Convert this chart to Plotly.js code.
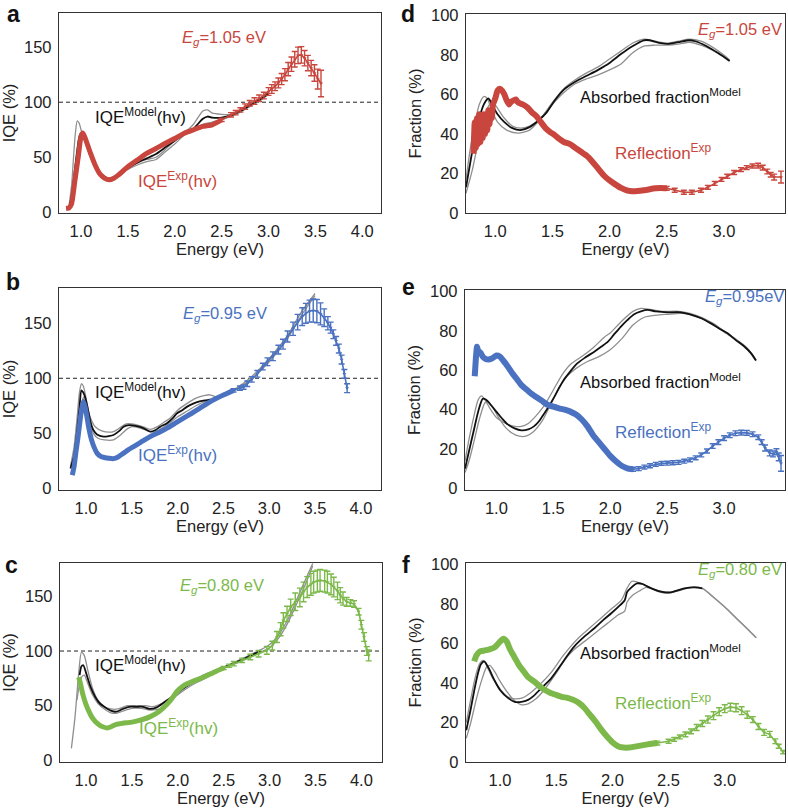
<!DOCTYPE html>
<html><head><meta charset="utf-8">
<script src="https://cdn.plot.ly/plotly-3.0.1.min.js"></script>
<style>body{margin:0;background:#fff}#chart{width:788px;height:809px}</style>
</head><body><div id="chart"></div>
<script>
// ---------- Panel a (Eg = 1.05 eV) ----------
const a_grey1_x = [0.87,0.9,0.92,0.94,0.96,0.98,1.0,1.05,1.1,1.2,1.3,1.4,1.5,1.6,1.7,1.8,1.9,2.0,2.1,2.2,2.3,2.35,2.4,2.5,2.6,2.7,2.8,2.9,3.0];
const a_grey1_y = [5,25,50,72,83,81,75,62,50,35,30,34,41,45,48,50,57,65,72,80,92,93,90,89,89,92,97,103,110];
const a_grey2_x = [0.88,0.92,0.95,0.98,1.0,1.03,1.05,1.1,1.2,1.3,1.4,1.5,1.6,1.7,1.8,1.9,2.0,2.1,2.2,2.3,2.4,2.5,2.6,2.7,2.8,2.9,3.0];
const a_grey2_y = [2,18,40,60,68,68,65,52,36,31,34,39,43,46,48,55,62,70,75,80,82,84,87,91,96,101,107];
const a_black_x = [0.87,0.9,0.95,0.98,1.0,1.03,1.1,1.2,1.3,1.4,1.5,1.6,1.7,1.8,1.9,2.0,2.1,2.2,2.3,2.35,2.4,2.5,2.6,2.7,2.8,2.9,3.0];
const a_black_y = [2,15,50,68,72,68,52,36,30,33,40,45,49,53,59,65,71,76,85,87,86,86,88,92,97,102,108];
const a_exp_x = [0.84,0.87,0.9,0.935,0.97,1.0,1.02,1.05,1.1,1.15,1.2,1.25,1.3,1.35,1.4,1.5,1.6,1.7,1.8,1.9,2.0,2.1,2.2,2.3,2.4,2.5,2.6,2.65,2.7,2.75,2.8,2.85,2.9,2.95,3.0,3.035,3.07,3.105,3.14,3.175,3.21,3.245,3.28,3.315,3.35,3.385,3.42,3.455,3.49,3.525,3.56];
const a_exp_y = [3.5,4,8,29,50,69,72,66,54,43,35,31,29.5,31,34,41.5,47.5,53.6,58,62.7,67,71.8,75,78,79.5,84,88.5,90.5,93,96,99,101,103.6,106,109.7,112,114.5,117.5,121,125,130,134.5,139,142.5,143,140,135.5,131,126.5,121,117];
const a_exp_err = [1,1,1,1,1,1,1,1,1,1,1,1,1,1,1,1,1,1,1,1,1,1,1.5,1.5,1.5,1.5,2,2,2,2.5,2.5,3,3,3,3.5,4,4,4.5,5,5.5,6,6.5,7,7.5,7.5,7,7,7,7.5,9,12];

// ---------- Panel b (Eg = 0.95 eV) ----------
const b_grey1_x = [0.83,0.87,0.9,0.93,0.95,0.97,1.0,1.04,1.1,1.18,1.25,1.3,1.37,1.44,1.5,1.58,1.65,1.7,1.78,1.85,1.92,2.0,2.1,2.2,2.3,2.35,2.43,2.6,2.8,3.0,3.2,3.35,3.5];
const b_grey1_y = [20,38,62,88,95,93,82,66,56,52,51,51.5,55,58.5,58.5,57,55,53.6,56,60,64,71,77,82,84.5,85,83,89,101,118,139,160,177];
const b_grey2_x = [0.85,0.9,0.93,0.96,0.98,1.0,1.04,1.08,1.13,1.2,1.3,1.37,1.45,1.5,1.58,1.65,1.7,1.76,1.85,1.92,2.0,2.1,2.2,2.3,2.4,2.6,2.8,3.0,3.2,3.35,3.5];
const b_grey2_y = [15,40,62,80,83,78,60,50,45.5,44,44,48,54,56,55,53,51.5,51.5,56,60,65,70,75,79,81,88,99,115,136,157,175];
const b_black_x = [0.83,0.87,0.9,0.93,0.95,0.97,0.99,1.02,1.05,1.08,1.12,1.19,1.25,1.3,1.36,1.41,1.47,1.52,1.58,1.63,1.7,1.76,1.81,1.88,1.95,1.99,2.05,2.1,2.17,2.24,2.3,2.35,2.43];
const b_black_y = [18,30,50,75,89,87,83,72,60,53,49,47,47.5,48.5,52,56,57.5,57,56,54.5,51.5,53,56,59,64,68,71,74,77,79,80,80.5,82];
const b_exp_x = [0.85,0.87,0.89,0.91,0.93,0.95,0.97,0.99,1.01,1.03,1.06,1.09,1.12,1.16,1.2,1.25,1.3,1.35,1.41,1.46,1.52,1.6,1.7,1.8,1.88,1.97,2.06,2.15,2.24,2.33,2.43,2.52,2.61,2.68,2.72,2.76,2.81,2.87,2.93,2.98,3.04,3.1,3.15,3.2,3.26,3.31,3.36,3.4,3.44,3.48,3.52,3.56,3.6,3.64,3.67,3.7,3.73,3.76,3.79,3.82,3.85];
const b_exp_y = [12,20,33,45,58,71,79,74,65,55,44,37,32,29,28,27.3,27,28.5,32,35,38,42,47,51,54.5,59,63.6,68,72.7,77.5,82,85.5,89,91,92,95,99,104,110.6,115,120,126,131,138,145,151,156,159,161,161.5,161,158.5,155,150,146,140,134,127,117,104,91];
const b_exp_err = [1,1,1,1,1,1,1,1,1,1,1,1,1,1,1,1,1,1,1,1,1,1,1,1,1,1,1,1,1,1,1,1.5,1.5,2,2,2.5,2.5,3,3,3.5,4,4,4.5,5,6,7,8,9,10,10.5,10.5,10,8,6,5,4,4,4,4,4,4];

// ---------- Panel c (Eg = 0.80 eV) ----------
const c_grey1_x = [0.84,0.88,0.92,0.95,0.98,1.02,1.07,1.13,1.2,1.27,1.35,1.45,1.55,1.65,1.72,1.8,1.9,2.0,2.1,2.2,2.3,2.4,2.5,2.6,2.7,2.8,2.9,3.0,3.1,3.2,3.3,3.4,3.47];
const c_grey1_y = [11,40,80,99,96,82,66,55,49,47,47,50,50,50,49,51,56,61,68,74,79,82,85,89,93,97,101,106,115,129,148,167,180];
const c_grey2_x = [0.9,0.95,0.98,1.02,1.07,1.13,1.2,1.27,1.33,1.4,1.5,1.6,1.7,1.8,1.9,2.0,2.1,2.2,2.3,2.4,2.5,2.6,2.7,2.8,2.9,3.0,3.1,3.2,3.3,3.4,3.47];
const c_grey2_y = [55,76,78,70,60,52,47,43.5,43,45,47.5,47.5,46,47,53,60,66,71,75,80,84,87.5,91,95,99,103,112,126,144,163,178];
const c_black_x = [0.93,0.95,0.97,1.0,1.05,1.1,1.15,1.2,1.27,1.33,1.4,1.47,1.55,1.62,1.7,1.77,1.85,1.92,2.0,2.1,2.2,2.3,2.4,2.5,2.6,2.7,2.8,2.9];
const c_black_y = [78,86,87,80,67,58,52,49,45.5,44.5,47,49,49,49,47,48.5,53,57,62.5,68,73,77,81,85,88.5,92,96,100];
const c_exp_x = [0.92,0.94,0.96,0.98,1.0,1.03,1.06,1.09,1.12,1.15,1.19,1.23,1.28,1.33,1.4,1.5,1.6,1.7,1.8,1.88,1.94,1.99,2.05,2.1,2.17,2.24,2.3,2.37,2.43,2.5,2.56,2.61,2.7,2.79,2.88,2.97,3.03,3.08,3.12,3.15,3.19,3.23,3.28,3.33,3.37,3.41,3.45,3.48,3.52,3.55,3.6,3.63,3.67,3.7,3.74,3.77,3.8,3.84,3.88,3.92,3.97,4.0,4.03,4.06,4.08];
const c_exp_y = [76,70,62,56,51,45,40,36.5,34,32,30.5,29.6,31,33,34,35,37,40,45,51,57,63,67.5,70,72.5,74.7,77,79.5,82,84.5,86.5,88.4,91.5,94.5,97.5,100.6,105,112.8,120,128,134,140,145,149,154,158.5,161,163,164,164.6,164,163,161,158.5,155,151,148,145,144,143,136,124,112.8,100,96];
const c_exp_err = [1,1,1,1,1,1,1,1,1,1,1,1,1,1,1,1,1,1,1,1,1,1,1,1,1,1,1,1,1,1.5,1.5,2,2,2.5,3,3.5,4,5,6,7,7,7.5,8,8.5,9,9.5,10,10,10,10,10,10,9.5,9,8,7,6,4,3,3,3,4,4,4,5];

// ---------- Panel d (Eg = 1.05 eV) ----------
const d_grey1_x = [0.744,0.78,0.82,0.86,0.9,0.93,0.97,1.02,1.1,1.2,1.3,1.4,1.5,1.6,1.7,1.8,1.9,2.0,2.1,2.2,2.3,2.4,2.5,2.6,2.7,2.8,2.9,3.0,3.05];
const d_grey1_y = [17,32,45,55,59,58,52,46,42,40.5,42,48,56,63,67.5,71,74,78,82,86,88,87,86,87,88,87,84,80,77.5];
const d_grey2_x = [0.744,0.8,0.85,0.9,0.95,0.98,1.02,1.08,1.15,1.22,1.3,1.4,1.5,1.6,1.7,1.8,1.9,2.0,2.1,2.2,2.3,2.4,2.5,2.6,2.7,2.8,2.9,3.0,3.05];
const d_grey2_y = [10,22,36,48,55,56,53,48,44,43,44,48,55,61,65.5,68,70,72.5,75.5,81,84.5,85,85,85.5,86.5,85,82.5,79,77];
const d_black_x = [0.744,0.78,0.82,0.86,0.9,0.94,0.98,1.02,1.08,1.15,1.22,1.3,1.38,1.45,1.52,1.6,1.7,1.8,1.9,2.0,2.1,2.2,2.3,2.35,2.45,2.52,2.6,2.7,2.75,2.85,2.95,3.05];
const d_black_y = [13,25,38,48,55,58,54,50,46,43,42,43.5,47,51,57,62.5,66.5,69.5,72.5,76,80.5,84.5,87.5,87.5,86,85.7,86.5,87.5,87,84.5,81,77];
const d_exp_x = [0.81,0.82,0.83,0.84,0.85,0.86,0.87,0.88,0.89,0.9,0.91,0.92,0.93,0.94,0.95,0.96,0.97,0.98,1.0,1.02,1.04,1.06,1.08,1.1,1.12,1.14,1.16,1.18,1.2,1.24,1.28,1.32,1.36,1.4,1.44,1.48,1.52,1.56,1.6,1.65,1.7,1.75,1.8,1.85,1.9,1.95,2.0,2.05,2.1,2.15,2.2,2.3,2.4,2.45,2.5,2.57,2.65,2.72,2.8,2.86,2.92,2.98,3.03,3.09,3.15,3.2,3.25,3.3,3.34,3.38,3.41,3.44,3.5];
const d_exp_y = [30,46,33,48,35,50,36,49,38,50,40,49,42,52,45,52,48,55,58,62,63,62,60,57,55,56.5,57,57.5,56,55,53.5,51,49,46,43,41,39.5,37.5,36,35,33,31,29,26,22.5,19,16.5,14.5,12.7,11.5,11,11.5,12.5,12.7,12.5,11.5,10.5,10.5,11.5,13,15,17,18.6,20.5,22,23,23.8,24,23,21,19.4,18.2,18.2];
const d_exp_err = [1,1,1,1,1,1,1,1,1,1,1,1,1,1,1,1,1,1,1,1,1,1,1,1,1,1,1,1,1,1,1,1,1,1,1,1,1,1,1,1,1,1,1,1,1,1,1,1,1,1,1,1,1,1,1,1,1,1,1,1,1,1,1,1,1,1,1,1.2,1.2,1.2,1.2,1.5,3];

// ---------- Panel e (Eg = 0.95 eV) ----------
const e_grey1_x = [0.725,0.76,0.8,0.84,0.87,0.9,0.95,1.0,1.05,1.1,1.16,1.22,1.28,1.35,1.42,1.5,1.58,1.65,1.75,1.85,1.95,2.0,2.1,2.2,2.27,2.35,2.45,2.6,2.7,2.8,2.9,3.0,3.1,3.2,3.28];
const e_grey1_y = [14,25,36,45,47,45,40,36,34,32.5,31.5,31.5,33,37,42,50,58,63,67,71.5,77,79,85,90,91.5,91,90,90,89,87,84,80,76,71.5,65];
const e_grey2_x = [0.725,0.76,0.8,0.85,0.9,0.93,0.97,1.02,1.08,1.14,1.2,1.26,1.32,1.4,1.48,1.55,1.62,1.7,1.8,1.9,2.0,2.1,2.2,2.3,2.4,2.5,2.62,2.7,2.8,2.9,3.0,3.1,3.2,3.28];
const e_grey2_y = [8,14,23,35,43.5,44,41,36,31,28,26.5,26.5,28.5,34,43,51,57,61,64.5,67,70.5,76,83,87,88,88.5,89,88.5,86.5,83.5,79.5,75.5,71,65];
const e_black_x = [0.725,0.76,0.8,0.84,0.88,0.91,0.95,1.0,1.05,1.1,1.16,1.22,1.28,1.33,1.38,1.42,1.47,1.51,1.55,1.59,1.65,1.71,1.78,1.86,1.92,1.98,2.03,2.09,2.15,2.21,2.27,2.33,2.4,2.5,2.62,2.7,2.8,2.88,2.95,3.03,3.1,3.18,3.24,3.28];
const e_black_y = [10,19,29,39,45.5,45,42.5,39,35.5,32.5,30.5,29.5,30,31.5,34.5,38,42.5,46.6,51,55,59.5,63.5,66.5,69.5,72,74.6,78,82,85.5,88.5,90,90.7,90,89.5,89.5,88.5,86.5,84,81.5,78.8,75.5,72,68.5,65];
const e_exp_x = [0.81,0.82,0.83,0.84,0.86,0.88,0.9,0.93,0.96,1.0,1.03,1.06,1.1,1.14,1.18,1.22,1.27,1.31,1.36,1.4,1.45,1.5,1.55,1.6,1.65,1.7,1.75,1.8,1.85,1.9,1.95,2.0,2.05,2.1,2.15,2.2,2.25,2.3,2.35,2.4,2.45,2.5,2.55,2.6,2.65,2.7,2.75,2.8,2.85,2.9,2.95,3.0,3.05,3.1,3.15,3.2,3.25,3.3,3.33,3.36,3.4,3.43,3.46,3.48,3.5];
const e_exp_y = [57,66,72,70,69,67,66,65.5,66,67.5,67,65,62,58.5,55.5,52.5,50,48,46,44.5,42.5,41.5,40.7,40,39,37.5,35,31.5,27,23.5,20,16.5,13.8,11.5,10.2,9.7,10,10.8,11.5,12.2,12.7,12.8,13,13.2,13.8,14.5,15.5,17,19,21.5,23.5,25.5,27,28,28.3,28.2,27.5,26,23.5,20.5,18,17.5,18.6,16,12.7];
const e_exp_err = [1,1,1,1,1,1,1,1,1,1,1,1,1,1,1,1,1,1,1,1,1,1,1,1,1,1,1,1,1,1,1,1,1,1,1,1,1,1,1,1,1,1,1,1,1,1,1,1,1,1.2,1.2,1.2,1.2,1.2,1.2,1.2,1.2,1.2,1.2,1.5,1.5,1.5,1.5,2,4];

// ---------- Panel f (Eg = 0.80 eV) ----------
const f_grey1_x = [0.7,0.74,0.78,0.82,0.85,0.88,0.93,1.0,1.07,1.13,1.2,1.27,1.35,1.45,1.55,1.62,1.7,1.8,1.9,2.0,2.08,2.13,2.17,2.2,2.25,2.31,2.4,2.5,2.6,2.7,2.8,2.9,3.0,3.1,3.2,3.28];
const f_grey1_y = [20,32,43,50,51.5,49,43,37,33,32,32.5,35,39,45,53,58,63,68,73,78,82,88,91.5,91.5,90.5,89,86.5,85.5,87,88.5,88,83.5,78.5,73,67.5,63];
const f_grey2_x = [0.7,0.74,0.79,0.84,0.88,0.91,0.95,1.0,1.07,1.13,1.19,1.25,1.32,1.4,1.5,1.58,1.66,1.75,1.85,1.95,2.05,2.11,2.13,2.18,2.25,2.3,2.4,2.5,2.6,2.7,2.8,2.9,3.0,3.1,3.2,3.28];
const f_grey2_y = [12,20,32,42,48,49,46,41,35,31,29,29.5,32,37,45,52,57,61,65.5,70,74.5,76.5,81,84.5,87,88.5,87,86,87,88.5,88,83.5,78.5,73,67.5,63];
const f_black_x = [0.7,0.74,0.77,0.8,0.83,0.86,0.9,0.95,1.0,1.07,1.13,1.19,1.25,1.3,1.36,1.45,1.54,1.6,1.66,1.75,1.84,1.92,1.99,2.05,2.11,2.13,2.17,2.22,2.27,2.31,2.37,2.43,2.52,2.58,2.64,2.73,2.8];
const f_black_y = [16,27,36,44,49.5,51,47.5,41.5,36.5,32.5,30.5,30.5,31.5,33.5,37,42,49,54,58.5,63.5,67.8,72,75.4,78.5,82,86,88.5,90.5,90.2,89,87.5,86.4,86,87,88,88.5,88];
const f_exp_x = [0.77,0.79,0.82,0.86,0.9,0.95,1.0,1.03,1.06,1.09,1.13,1.17,1.21,1.25,1.3,1.35,1.4,1.45,1.5,1.55,1.6,1.65,1.7,1.75,1.8,1.85,1.9,1.95,2.0,2.05,2.1,2.15,2.2,2.3,2.4,2.5,2.55,2.6,2.65,2.7,2.75,2.8,2.85,2.9,2.95,3.0,3.05,3.1,3.15,3.2,3.25,3.3,3.35,3.4,3.45,3.48,3.52];
const f_exp_y = [51,54,56,56.5,57,58,61,62.5,61,57,53,49,46,43,41,38.5,36.5,35,34,33,32.5,31.5,30,27.5,24,20.5,16.5,13,10,8,7.3,7.3,7.8,8.8,9.6,10.5,11.5,12.7,14,15.5,17.5,19.5,21.5,23.5,25.5,27,27.8,27.5,26,24,21.5,18,15,14,10.5,8,5];
const f_exp_err = [1,1,1,1,1,1,1,1,1,1,1,1,1,1,1,1,1,1,1,1,1,1,1,1,1,1,1,1,1,1,1,1,1,1,1,1,1,1,1.2,1.2,1.5,1.5,1.8,2,2,2,2,2,2,1.8,1.5,1.5,1.5,1.5,1.2,1,0.8];

// ---------- tick labels ----------
const iqeTicks = [0,50,100,150];
const fracTicks = [0,20,40,60,80,100];
const energyTicksIQE = [1.0,1.5,2.0,2.5,3.0,3.5,4.0];
const energyTicksFrac = [1.0,1.5,2.0,2.5,3.0,3.5];

// ---------- styling ----------
const RED='#c8463d', BLUE='#4a72c0', GREEN='#7cb94a', GREY='#8f8f8f', BLACK='#111111';
const FONT='Liberation Sans, Arial, Helvetica, sans-serif';
const W=788, H=809;

function modelTraces(xa, ya, g1x, g1y, g2x, g2y, bx, by){
  const base = {xaxis:xa, yaxis:ya, mode:'lines', hoverinfo:'skip', showlegend:false};
  return [
    Object.assign({x:g1x, y:g1y, line:{color:GREY, width:1.3, shape:'spline', smoothing:0.7}}, base),
    Object.assign({x:g2x, y:g2y, line:{color:GREY, width:1.3, shape:'spline', smoothing:0.7}}, base),
    Object.assign({x:bx, y:by, line:{color:BLACK, width:1.8, shape:'spline', smoothing:0.7}}, base)
  ];
}
function expTraces(xa, ya, xs, ys, es, split, color, w){
  let i0 = xs.findIndex(v => v >= split);
  if (i0 < 0) i0 = xs.length - 1;
  const dense = {x:xs.slice(0, i0+1), y:ys.slice(0, i0+1), xaxis:xa, yaxis:ya, mode:'lines',
    line:{color:color, width:w, shape:'spline', smoothing:0.5}, hoverinfo:'skip', showlegend:false};
  const sparse = {x:xs.slice(i0), y:ys.slice(i0), xaxis:xa, yaxis:ya, mode:'lines+markers',
    line:{color:color, width:1.6}, marker:{color:color, size:3.5, symbol:'triangle-down'},
    error_y:{type:'data', array:es.slice(i0), visible:true, color:color, thickness:1.4, width:3},
    hoverinfo:'skip', showlegend:false};
  return [dense, sparse];
}

const traces = [].concat(
  modelTraces('x','y', a_grey1_x,a_grey1_y,a_grey2_x,a_grey2_y,a_black_x,a_black_y),
  expTraces('x','y', a_exp_x,a_exp_y,a_exp_err, 2.5, RED, 5),
  modelTraces('x2','y2', d_grey1_x,d_grey1_y,d_grey2_x,d_grey2_y,d_black_x,d_black_y),
  expTraces('x2','y2', d_exp_x,d_exp_y,d_exp_err, 2.5, RED, 6),
  modelTraces('x3','y3', b_grey1_x,b_grey1_y,b_grey2_x,b_grey2_y,b_black_x,b_black_y),
  expTraces('x3','y3', b_exp_x,b_exp_y,b_exp_err, 2.6, BLUE, 5),
  modelTraces('x4','y4', e_grey1_x,e_grey1_y,e_grey2_x,e_grey2_y,e_black_x,e_black_y),
  expTraces('x4','y4', e_exp_x,e_exp_y,e_exp_err, 2.2, BLUE, 6),
  modelTraces('x5','y5', c_grey1_x,c_grey1_y,c_grey2_x,c_grey2_y,c_black_x,c_black_y),
  expTraces('x5','y5', c_exp_x,c_exp_y,c_exp_err, 2.5, GREEN, 5),
  modelTraces('x6','y6', f_grey1_x,f_grey1_y,f_grey2_x,f_grey2_y,f_black_x,f_black_y),
  expTraces('x6','y6', f_exp_x,f_exp_y,f_exp_err, 2.4, GREEN, 6)
);

function px(x){ return x / W; }
function py(y){ return 1 - y / H; }

function xAxis(l, r, range, ticks, anchor){
  return {domain:[px(l), px(r)], range:range, anchor:anchor, tickvals:ticks, ticktext:ticks.map(v=>v.toFixed(1)),
    showline:true, mirror:true, linecolor:'#333', linewidth:1.2, showgrid:false, zeroline:false,
    ticks:'outside', ticklen:3, tickcolor:'rgba(0,0,0,0)', tickfont:{size:16.5, color:'#222'},
    title:{text:'Energy (eV)', font:{size:16.5, color:'#222'}, standoff:3}};
}
function yAxis(t, b, range, ticks, title, anchor){
  return {domain:[py(b), py(t)], range:range, anchor:anchor, tickvals:ticks,
    showline:true, mirror:true, linecolor:'#333', linewidth:1.2, showgrid:false, zeroline:false,
    ticks:'outside', ticklen:3, tickcolor:'rgba(0,0,0,0)', tickfont:{size:16.5, color:'#222'},
    title:{text:title, font:{size:16.5, color:'#222'}, standoff:5}};
}

const layout = {
  width:W, height:H, margin:{l:0, r:0, t:0, b:0}, paper_bgcolor:'#fff', plot_bgcolor:'#fff',
  font:{family:FONT, color:'#222'}, showlegend:false,
  xaxis:  xAxis(59, 381, [0.765, 4.2], energyTicksIQE, 'y'),
  yaxis:  yAxis(13, 213, [-0.6, 181], iqeTicks, 'IQE (%)', 'x'),
  xaxis2: xAxis(466, 785, [0.744, 3.535], energyTicksFrac, 'y2'),
  yaxis2: yAxis(14, 213, [0, 100.8], fracTicks, 'Fraction (%)', 'x2'),
  xaxis3: xAxis(59, 381, [0.705, 4.22], energyTicksIQE, 'y3'),
  yaxis3: yAxis(288, 490, [-1.5, 182], iqeTicks, 'IQE (%)', 'x3'),
  xaxis4: xAxis(465, 785, [0.7245, 3.535], energyTicksFrac, 'y4'),
  yaxis4: yAxis(290, 490, [-0.85, 100.85], fracTicks, 'Fraction (%)', 'x4'),
  xaxis5: xAxis(60, 382, [0.716, 4.225], energyTicksIQE, 'y5'),
  yaxis5: yAxis(563, 762, [-1.5, 180.5], iqeTicks, 'IQE (%)', 'x5'),
  xaxis6: xAxis(466, 785, [0.6975, 3.536], energyTicksFrac, 'y6'),
  yaxis6: yAxis(563, 762, [0, 100.85], fracTicks, 'Fraction (%)', 'x6'),
  shapes: [['x','y'],['x3','y3'],['x5','y5']].map(([xa,ya]) => ({type:'line', xref:xa+' domain', yref:ya,
    x0:0, x1:1, y0:100, y1:100, line:{color:'#222', width:1, dash:'4px,3px'}, layer:'below'})),
  annotations: []
};

function ann(text, x, y, color, size, bold){
  layout.annotations.push({text: bold ? '<b>'+text+'</b>' : text, xref:'paper', yref:'paper',
    x:px(x), y:py(y), xanchor:'center', yanchor:'middle', showarrow:false,
    font:{family:FONT, size:size, color:color}});
}
// panel letters
ann('a', 13, 14, '#111', 23, true);
ann('d', 408, 14, '#111', 23, true);
ann('b', 13, 282, '#111', 23, true);
ann('e', 408, 287, '#111', 23, true);
ann('c', 11, 565, '#111', 23, true);
ann('f', 406, 565, '#111', 23, true);
// panel a
ann('<i>E<sub>g</sub></i>=1.05 eV', 224, 38, RED, 16.5);
ann('IQE<sup>Model</sup>(hv)', 140, 116, '#111', 17);
ann('IQE<sup>Exp</sup>(hv)', 177, 180, RED, 17);
// panel d
ann('<i>E<sub>g</sub></i>=1.05 eV', 740, 30, RED, 16.5);
ann('Absorbed fraction<sup>Model</sup>', 660, 96, '#111', 16.5);
ann('Reflection<sup>Exp</sup>', 663, 152, RED, 17);
// panel b
ann('<i>E<sub>g</sub></i>=0.95 eV', 225, 314, BLUE, 16.5);
ann('IQE<sup>Model</sup>(hv)', 140, 391, '#111', 17);
ann('IQE<sup>Exp</sup>(hv)', 177, 454, BLUE, 17);
// panel e
ann('<i>E<sub>g</sub></i>=0.95eV', 744, 297, BLUE, 16.5);
ann('Absorbed fraction<sup>Model</sup>', 660, 381, '#111', 16.5);
ann('Reflection<sup>Exp</sup>', 663, 431, BLUE, 17);
// panel c
ann('<i>E<sub>g</sub></i>=0.80 eV', 222, 586, GREEN, 16.5);
ann('IQE<sup>Model</sup>(hv)', 140, 664, '#111', 17);
ann('IQE<sup>Exp</sup>(hv)', 178, 727, GREEN, 17);
// panel f
ann('<i>E<sub>g</sub></i>=0.80 eV', 740, 570, GREEN, 16.5);
ann('Absorbed fraction<sup>Model</sup>', 660, 652, '#111', 16.5);
ann('Reflection<sup>Exp</sup>', 663, 702, GREEN, 17);

Plotly.newPlot('chart', traces, layout, {staticPlot:true, displayModeBar:false});
</script></body></html>
